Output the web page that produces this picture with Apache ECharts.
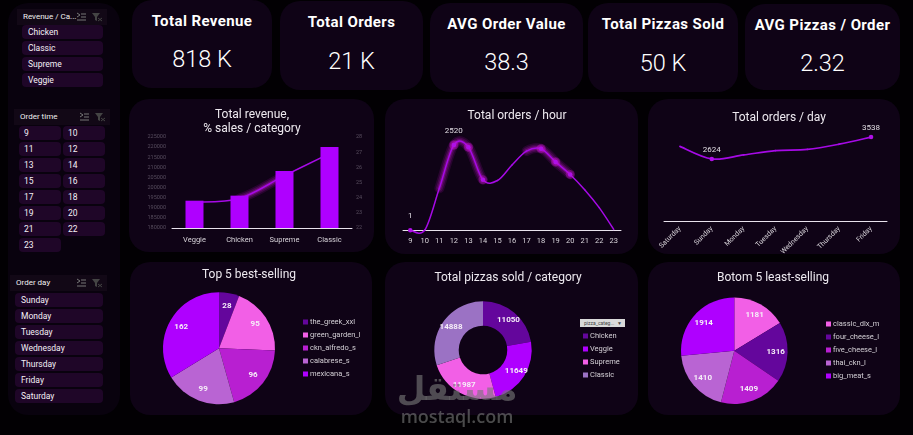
<!DOCTYPE html>
<html>
<head>
<meta charset="utf-8">
<title>Pizza sales dashboard</title>
<script src="https://cdn.jsdelivr.net/npm/echarts@6/dist/echarts.min.js"></script>
<style>
  html, body { margin: 0; padding: 0; background: #020003; overflow: hidden; }
  body { position: relative; width: 913px; height: 435px; font-family: Roboto, sans-serif; color: #fff; }
  .box { position: absolute; background: #0f0316; border-radius: 20px; }
  #side { background: #09020e; }
  .kpi-title { position: absolute; left: 0; right: 0; text-align: center; font-size: 15px; font-weight: 700; letter-spacing: .4px; transform: translateY(-50%); white-space: nowrap; }
  .kpi-value { position: absolute; left: 0; right: 0; text-align: center; font-size: 23.5px; font-weight: 300; transform: translateY(-50%); }
  .head { position: absolute; height: 16px; line-height: 16px; background: #120816; font-size: 8px; color: #f0f0f0; box-sizing: border-box; white-space: nowrap; }
  .head svg { position: absolute; top: 3px; width: 10px; height: 10px; }
  .btn { position: absolute; height: 14px; line-height: 14px; background: #1f0628; border-radius: 4px; font-size: 8.5px; color: #f4f0f6; box-sizing: border-box; }
  #main { position: absolute; left: 0; top: 0; width: 913px; height: 435px; }
  #pick { position: absolute; left: 580px; top: 319px; width: 45px; height: 8px; background: #d9d9d9; color: #444; font-size: 5px; line-height: 8px; padding-left: 4px; box-sizing: border-box; white-space: nowrap; }
  #mark { position: absolute; left: 396px; top: 371px; width: 122px; text-align: center; color: rgba(120,120,120,.62); pointer-events: none; }
  #mark .ar { font: bold 33px/35px "DejaVu Sans"; }
  #mark .en { font: 600 18px/20px "Open Sans"; }
</style>
</head>
<body>
<div class="box" id="side" style="left:8px;top:3px;width:112px;height:412px"></div>
<div id="kpis"></div>
<div class="box" style="left:129px;top:99px;width:245px;height:153px"></div>
<div class="box" style="left:385px;top:99px;width:253px;height:155px"></div>
<div class="box" style="left:648px;top:99px;width:252px;height:155px"></div>
<div class="box" style="left:130px;top:262px;width:242px;height:153px"></div>
<div class="box" style="left:385px;top:262px;width:253px;height:153px"></div>
<div class="box" style="left:648px;top:262px;width:252px;height:153px"></div>
<div id="slicers"></div>
<div id="main"></div>
<div id="pick">pizza_categ...<span style="position:absolute;right:3px;top:0">&#9660;</span></div>
<div id="mark"><div class="ar">مستقل</div><div class="en">mostaql.com</div></div>

<script>
// kpi cards
const kpiTitles = ['Total Revenue', 'Total Orders', 'AVG Order Value', 'Total Pizzas Sold', 'AVG Pizzas / Order'];
const kpiValues = ['818 K', '21 K', '38.3', '50 K', '2.32'];

// slicers
const categorySlicer = ['Chicken', 'Classic', 'Supreme', 'Veggie'];
const timeSlicer = ['9', '10', '11', '12', '13', '14', '15', '16', '17', '18', '19', '20', '21', '22', '23'];
const daySlicer = ['Sunday', 'Monday', 'Tuesday', 'Wednesday', 'Thursday', 'Friday', 'Saturday'];

// revenue / % sales
const revenueCategories = ['Veggie', 'Chicken', 'Supreme', 'Classic'];
const revenueValues = [193500, 196000, 208200, 220000];
const salesShare = [23.7, 23.95, 25.45, 26.9];

// orders per hour
const hours = ['9', '10', '11', '12', '13', '14', '15', '16', '17', '18', '19', '20', '21', '22', '23'];
const hourOrders = [1, 8, 1240, 2520, 2455, 1490, 1470, 1930, 2340, 2410, 2020, 1650, 1200, 670, 28];

// orders per day
const days = ['Saturday', 'Sunday', 'Monday', 'Tuesday', 'Wednesday', 'Thursday', 'Friday'];
const dayOrders = [3150, 2624, 2790, 2970, 3020, 3240, 3538];

// pies
const bestNames = ['the_greek_xxl', 'green_garden_l', 'ckn_alfredo_s', 'calabrese_s', 'mexicana_s'];
const bestValues = [28, 95, 96, 99, 162];
const pizzaCategories = ['Chicken', 'Veggie', 'Supreme', 'Classic'];
const pizzaValues = [11050, 11649, 11987, 14888];
const worstNames = ['classic_dlx_m', 'four_cheese_l', 'five_cheese_l', 'thai_ckn_l', 'big_meat_s'];
const worstValues = [1181, 1316, 1409, 1410, 1914];

const DARK = '#64069c', PINK = '#f25fe6', MID = '#b81fd1', SOFT = '#b964d3', VIOLET = '#af00ff', LILAC = '#9b72c4';
const LINE = '#a60ae6', MARK = '#b010e8';
const FONT = 'Roboto';

// ---- html parts ----
const kpiBoxes = [
  { x: 132, y: 0, w: 140, h: 88, t: 21, v: 59 },
  { x: 280, y: 1, w: 143, h: 89, t: 21, v: 60 },
  { x: 430, y: 3, w: 153, h: 89, t: 21, v: 59 },
  { x: 588, y: 3, w: 150, h: 89, t: 21, v: 60 },
  { x: 745, y: 4, w: 155, h: 86, t: 21, v: 59 }
];
document.getElementById('kpis').innerHTML = kpiBoxes.map((b, i) =>
  `<div class="box" style="left:${b.x}px;top:${b.y}px;width:${b.w}px;height:${b.h}px">
     <div class="kpi-title" style="top:${b.t}px">${kpiTitles[i]}</div>
     <div class="kpi-value" style="top:${b.v}px">${kpiValues[i]}</div>
   </div>`).join('');

const ICONS = '<svg style="right:21px" viewBox="0 0 10 10" fill="none" stroke="#777"><path d="M1 1l3 2-3 2M5 2h5M5 5h5M1 8h9"/></svg>' +
  '<svg style="right:5px" viewBox="0 0 10 10" fill="#444"><path d="M0 1h8L5 5v4L3 8V5z"/><path d="M6 6l4 3M10 6l-4 3" stroke="#444"/></svg>';

function slicer(title, items, s) {
  let html = `<div class="head" style="left:${s.x}px;top:${s.y}px;width:${s.w}px;padding-left:${s.tx}px">${title}${ICONS}</div>`;
  items.forEach((label, i) => {
    const col = i % s.cols, row = Math.floor(i / s.cols);
    html += `<div class="btn" style="left:${s.bx + col * (s.bw + 2)}px;top:${s.y + s.dy + row * 16}px;width:${s.bw}px;padding-left:${s.pad}px">${label}</div>`;
  });
  return html;
}
document.getElementById('slicers').innerHTML =
  slicer('Revenue / Ca...', categorySlicer, { x: 17, y: 9, w: 90, tx: 6, bx: 22, bw: 81, dy: 16, cols: 1, pad: 6 }) +
  slicer('Order time', timeSlicer, { x: 14, y: 109, w: 96, tx: 6, bx: 19, bw: 42, dy: 17, cols: 2, pad: 5 }) +
  slicer('Order day', daySlicer, { x: 10, y: 275, w: 97, tx: 6, bx: 15, bw: 88, dy: 18, cols: 1, pad: 6 });

// ---- chart helpers ----
const chart = echarts.init(document.getElementById('main'), null, { renderer: 'canvas' });

function chartTitle(text, x, y) {
  return {
    text, left: x, top: y, textAlign: 'center', padding: 0,
    textStyle: { color: '#eeeaf0', fontFamily: FONT, fontSize: 12, fontWeight: 400, lineHeight: 14 }
  };
}

function categoryAxis(grid, data, labelExtra) {
  return {
    type: 'category', gridIndex: grid, data,
    axisTick: { show: false },
    axisLine: { lineStyle: { color: '#e8e2ec', width: 1 } },
    axisLabel: Object.assign({ color: '#d8d4da', fontFamily: FONT, fontSize: 7.5, interval: 0 }, labelExtra)
  };
}

function hiddenAxis(grid, max) {
  return { type: 'value', gridIndex: grid, min: 0, max, show: false };
}

function plainAxis(grid, extra, margin) {
  return Object.assign({
    type: 'value', gridIndex: grid,
    splitLine: { show: false }, axisLine: { show: false }, axisTick: { show: false },
    axisLabel: { color: '#574d5e', fontFamily: FONT, fontSize: 5.5, margin, formatter: v => String(v) }
  }, extra);
}

// echarts' own smooth clamps at the peaks, the original curve overshoots them,
// so the segments are drawn as catmull-rom beziers through the axis scales.
// only: segment indexes to draw, all of them when left out
function curveSeries(xi, yi, values, color, width, only) {
  const last = values.length - 1;
  const render = (params, api) => {
    const i = params.dataIndex;
    if (i === last) return null;
    if (only && !only.includes(i)) return null;
    const pt = k => {
      const j = Math.max(0, Math.min(last, k));
      return api.coord([j, values[j]]);
    };
    const p0 = pt(i - 1), p1 = pt(i), p2 = pt(i + 1), p3 = pt(i + 2);
    return {
      type: 'bezierCurve',
      shape: {
        x1: p1[0], y1: p1[1], x2: p2[0], y2: p2[1],
        cpx1: p1[0] + (p2[0] - p0[0]) / 6, cpy1: p1[1] + (p2[1] - p0[1]) / 6,
        cpx2: p2[0] - (p3[0] - p1[0]) / 6, cpy2: p2[1] - (p3[1] - p1[1]) / 6
      },
      style: { fill: 'none', stroke: color, lineWidth: width, lineCap: 'round' }
    };
  };
  return {
    type: 'custom', xAxisIndex: xi, yAxisIndex: yi, silent: true, animation: false,
    data: values.map((v, i) => [i, v]), encode: { x: 0, y: 1 }, renderItem: render
  };
}

// soft strokes stacked under a curve
function glowSeries(xi, yi, values, only) {
  return [
    curveSeries(xi, yi, values, 'rgba(190,20,200,0.14)', 10, only),
    curveSeries(xi, yi, values, 'rgba(190,20,200,0.2)', 7, only),
    curveSeries(xi, yi, values, 'rgba(200,20,210,0.3)', 4, only)
  ];
}

// a line series that only shows markers at the listed categories, labelled ones get their value on top
function markerSeries(xi, yi, names, values, marked, size, color, labelled, distance) {
  return {
    type: 'line', xAxisIndex: xi, yAxisIndex: yi, clip: false, showAllSymbol: true, animation: false,
    lineStyle: { opacity: 0 },
    itemStyle: { color },
    data: values.map((v, i) => {
      if (!marked.includes(names[i])) return { value: v, symbol: 'none' };
      const item = { value: v, symbol: 'circle', symbolSize: size };
      if (labelled && labelled.includes(names[i])) {
        item.label = { show: true, position: 'top', distance, color: '#e0dce2', fontFamily: FONT, fontSize: 8 };
      }
      return item;
    })
  };
}

// a visible pie and an invisible ring on top of it that holds the labels further out
function pieSeries(names, values, colors, center, r, hole) {
  const data = names.map((name, i) => ({ name, value: values[i], itemStyle: { color: colors[i] } }));
  return [
    {
      type: 'pie', center, radius: [hole, r], startAngle: 90, clockwise: true,
      data, label: { show: false }, labelLine: { show: false }, silent: true, animation: false
    },
    {
      type: 'pie', center, radius: [hole || r * 0.44, r], startAngle: 90, clockwise: true,
      data: names.map((name, i) => ({ name, value: values[i], itemStyle: { color: 'transparent' } })),
      label: { show: true, position: 'inside', formatter: '{c}', color: '#f6eef8', fontFamily: FONT, fontSize: 8, fontWeight: 700 },
      labelLine: { show: false }, silent: true, animation: false
    }
  ];
}

function pieLegend(names, x, y) {
  return {
    data: names, orient: 'vertical', left: x, top: y, icon: 'rect', padding: 0,
    itemWidth: 5, itemHeight: 5, itemGap: 5, selectedMode: false,
    textStyle: { color: '#d4d0d6', fontFamily: FONT, fontSize: 7.5, padding: [0, 0, 0, -3] }
  };
}

const glowHours = ['12', '13', '14', '18', '19', '20'];

// ---- option ----
const option = {
  backgroundColor: 'transparent',
  animation: false,
  title: [
    chartTitle('Total revenue,\n% sales / category', 252, 108),
    chartTitle('Total orders / hour', 517, 109),
    chartTitle('Total orders / day', 779, 111),
    chartTitle('Top 5 best-selling', 249, 268),
    chartTitle('Total pizzas sold / category', 508, 271),
    chartTitle('Botom 5 least-selling', 773, 271)
  ],
  grid: [
    { left: 172, top: 137, width: 180, height: 91 },
    { left: 403, top: 128.7, width: 218, height: 101.6 },
    { left: 664, top: 126, width: 223, height: 95.7 }
  ],
  xAxis: [
    categoryAxis(0, revenueCategories, { margin: 8 }),
    categoryAxis(1, hours, { margin: 7, fontSize: 7.5 }),
    categoryAxis(2, days, { margin: 6, fontSize: 7, rotate: 45 })
  ],
  yAxis: [
    plainAxis(0, { min: 180000, max: 225000, interval: 5000 }, 6),
    plainAxis(0, { position: 'right', min: 22, max: 28, interval: 1 }, 4),
    hiddenAxis(1, 3000),
    hiddenAxis(2, 4000)
  ],
  legend: [
    pieLegend(bestNames, 303, 318),
    pieLegend(pizzaCategories, 583, 332),
    pieLegend(worstNames, 826, 320)
  ],
  series: [
    {
      type: 'bar', xAxisIndex: 0, yAxisIndex: 0, data: revenueValues, barWidth: 18,
      itemStyle: { color: VIOLET }, animation: false
    },
    ...glowSeries(0, 1, salesShare, [1]),
    curveSeries(0, 1, salesShare, LINE, 1.5),
    ...glowSeries(1, 2, hourOrders, [2, 3, 4, 8, 9, 10]),
    curveSeries(1, 2, hourOrders, LINE, 1.5),
    markerSeries(1, 2, hours, hourOrders, glowHours, 9, 'rgba(200,20,210,0.35)'),
    markerSeries(1, 2, hours, hourOrders, ['9', ...glowHours], 4.5, MARK, ['9', '12'], 8),
    curveSeries(2, 3, dayOrders, LINE, 1.7),
    markerSeries(2, 3, days, dayOrders, ['Sunday', 'Friday'], 4.5, MARK, ['Sunday', 'Friday'], 3),
    ...pieSeries(bestNames, bestValues, [DARK, PINK, MID, SOFT, VIOLET], [219, 348.3], 56, 0),
    ...pieSeries(pizzaCategories, pizzaValues, [DARK, VIOLET, PINK, LILAC], [483, 350], 48.7, 24.3),
    ...pieSeries(worstNames, worstValues, [PINK, DARK, MID, SOFT, VIOLET], [734.3, 350.7], 53.3, 0)
  ]
};

chart.setOption(option);
</script>
</body>
</html>
